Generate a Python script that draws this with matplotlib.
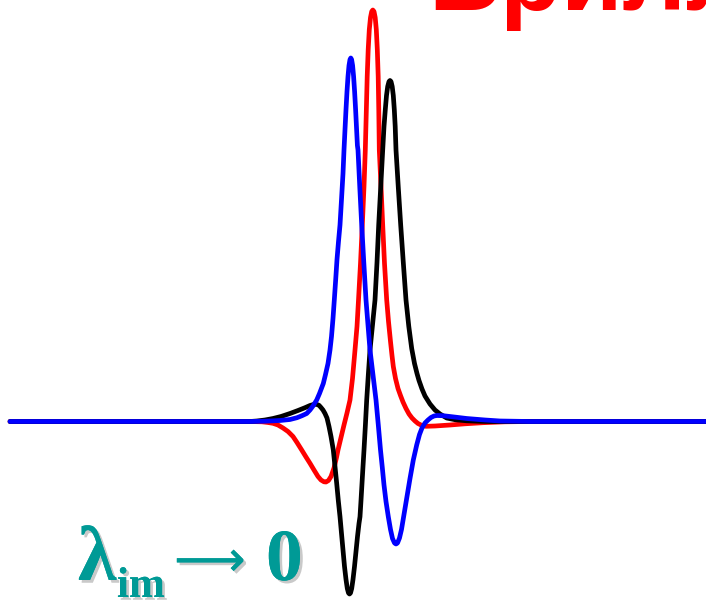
import matplotlib
matplotlib.use('Agg')
import matplotlib.pyplot as plt
from matplotlib import patheffects

# Curves: x position and height above the zero line
red_x = [10, 250, 262, 268, 273, 278, 283, 288, 293, 297, 301.7, 306, 310, 314, 318, 321,
         324, 326, 328.5, 331, 334, 336.5, 338, 341, 344, 347, 350, 352.5, 355, 357, 358.5,
         360.5, 362.3, 364, 365.3, 366.3, 367.2, 368.2, 369.3, 370.5, 371.7, 372.8, 374, 375.2,
         376.3, 377.3, 378.2, 378.8, 379.3, 381, 382.7, 384.5, 386.7, 388.5, 390.5, 392, 393.3,
         395.5, 398, 400.5, 403, 406, 409, 412, 415, 418, 422, 426, 435, 450, 465, 483, 505, 530, 706]
red_y = [0, 0, -0.3, -1, -1.8, -3.5, -6.5, -10, -15, -21, -28.5, -35.5, -41.8, -48.5, -55, -58.5,
         -60.3, -60.5, -59, -55, -46.5, -36, -28.5, -16, -3.5, 8.5, 21.5, 43, 71.5, 95, 121.5,
         158, 196.5, 235, 271.5, 310, 345, 372, 392, 404, 410, 411.5, 410, 404,
         392, 372, 345, 310, 271.5, 235, 196.5, 158, 121.5, 100, 80, 66, 55,
         43, 33, 26, 19.5, 13, 7.5, 3.5, 0.5, -2, -4, -4.8, -4.5, -3.5, -2.3, -1.2, -0.3, 0, 0]

blue_x = [10, 250, 265, 280, 290, 297, 302, 306.7, 310, 313, 316.7, 319.5, 323.3, 325.5, 328,
          330, 331.5, 333, 334.3, 335.7, 337, 338.5, 340, 341.5, 343, 344, 345, 346, 347, 348,
          349, 350, 350.8, 351.6, 352.6, 353.6, 354.6, 355.6, 356.6, 357.4, 358, 359.8, 361.7,
          363.8, 366, 368, 370, 373, 376, 378.3, 380.5, 382.3, 384, 386, 388.3, 390.5, 392.5,
          394.5, 396, 397.5, 399.5, 401.5, 403.5, 405.5, 407.5, 410, 413.3, 416.7, 419.5, 422,
          425, 428, 431, 434, 437, 443, 450, 466.7, 485, 500, 530, 706]
blue_y = [0, 0, 0.3, 1, 2, 3.8, 5.8, 8, 11.5, 15.5, 21.5, 28, 38, 47, 58,
          71.5, 85, 103, 121.5, 142, 162, 180, 196.5, 222, 248, 271.5, 292, 312, 330, 345,
          356, 362, 363.5, 362, 356, 345, 330, 312, 292, 276, 271.5, 234, 196.5,
          159, 121.5, 96.5, 71.5, 46.5, 21.5, -3.5, -28.5, -46, -63.5, -80, -95.2, -108, -117,
          -121.5, -122.5, -121.5, -116.5, -108, -96, -84, -72, -57, -38.5, -23.5, -13, -6.5,
          -1.5, 1.5, 4, 5.5, 6, 5.8, 5, 3, 1.5, 0.5, 0, 0]

black_x = [10, 250, 257, 265, 273, 281, 290, 298, 305, 310, 313.5, 316.5, 319, 321, 323, 325,
           327, 329, 331, 333.3, 335, 336.7, 338.3, 340, 341.5, 343, 344.5, 346, 347.3, 348.5,
           349.5, 350.5, 351.7, 353, 354.5, 356, 357.5, 359, 360, 361, 362, 363, 364, 365.4,
           366.7, 368.3, 370, 372.5, 375, 377, 378.7, 380.7, 382.7, 384, 385.3, 386.5, 387.7,
           389, 390, 391, 392.2, 393.3, 394.3, 395.2, 396, 398.3, 400.7, 403.3, 406, 408.8,
           411.7, 414.5, 417, 419, 422, 425, 430, 435, 440, 446.7, 455, 466.7, 480, 490, 706]
black_y = [0, 0, 0.5, 1.5, 3, 5, 8, 11, 13.8, 16, 17, 17.2, 16.2, 14, 11.5, 8,
           3.5, -5, -15, -28.5, -45, -62, -79, -95.2, -112, -128.5, -145, -158, -167, -171.5,
           -172.5, -171.5, -167, -158, -145, -130, -115, -102, -95.2, -79, -62, -45, -28.5, -3.5,
           21.5, 46.5, 71.5, 96.5, 121.5, 159, 196.5, 234, 271.5, 295, 312, 326, 335,
           340, 341, 340, 335, 326, 312, 295, 271.5, 234, 196.5, 159, 121.5, 95,
           73, 58, 48, 41, 32.5, 25.5, 17.5, 11.5, 7.5, 3.5, 1.8, 0.7, 0.2, 0, 0]

title_text = 'Бриллюэна'
label_symbol = 'λ'
label_sub = 'im'
label_arrow = '⟶'
label_value = '0'


def plot_curves(ax):
    """
    Draw the three curves over the zero line, blue last so it sits on top.
    """
    style = dict(linewidth=3.4, solid_capstyle='round', solid_joinstyle='round')
    ax.plot(red_x, red_y, color='#ff0000', **style)
    ax.plot(black_x, black_y, color='black', **style)
    ax.plot(blue_x, blue_y, color='#0000ff', **style)


def add_labels(ax):
    """
    Put the cut off red heading at the top and the teal limit label below.
    """
    ax.text(428, 411.5, title_text, color='#ff0000', fontsize=72, fontweight='bold',
            family='Liberation Sans', ha='left', va='baseline')
    shadow = [patheffects.withSimplePatchShadow(offset=(2, -2), shadow_rgbFace='#888888', alpha=0.45),
              patheffects.Normal()]
    teal = '#009a96'
    ax.text(78, -158.5, label_symbol, color=teal, fontsize=56, fontweight='bold',
            family='Liberation Serif', ha='left', va='baseline', path_effects=shadow)
    ax.text(117, -175.5, label_sub, color=teal, fontsize=31, fontweight='bold',
            family='Liberation Serif', ha='left', va='baseline', path_effects=shadow)
    ax.text(174, -154.5, label_arrow, color=teal, fontsize=36,
            family='DejaVu Sans', ha='left', va='baseline', path_effects=shadow)
    ax.text(266, -158.5, label_value, color=teal, fontsize=53, fontweight='bold',
            family='Liberation Serif', ha='left', va='baseline', path_effects=shadow)


fig = plt.figure(figsize=(7.06, 6.0), dpi=100)
ax = fig.add_axes([0, 0, 1, 1])
ax.set_xlim(0, 706)
ax.set_ylim(421.5 - 600, 421.5)
ax.axis('off')

plot_curves(ax)
add_labels(ax)

fig.savefig('out.png', dpi=100)
